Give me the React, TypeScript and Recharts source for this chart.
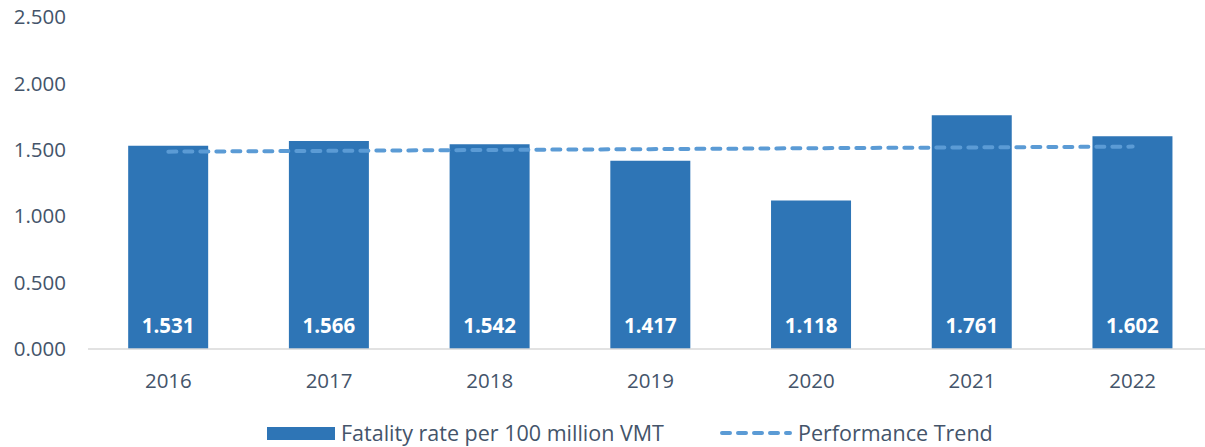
import { Bar, ComposedChart, LabelList, Line, XAxis, YAxis } from "recharts"

const years = ["2016", "2017", "2018", "2019", "2020", "2021", "2022"]
const fatalityRate = [1.531, 1.566, 1.542, 1.417, 1.118, 1.761, 1.602]
const performanceTrend = [1.486, 1.492, 1.499, 1.505, 1.512, 1.518, 1.524]
const yTicks = [0, 0.5, 1, 1.5, 2, 2.5]

const data = years.map((year, i) => ({
  year,
  rate: fatalityRate[i],
  trend: performanceTrend[i],
}))

const font = "'Open Sans', sans-serif"
const textColor = "#44546A"
const barColor = "#2E75B6"
const lineColor = "#5B9BD5"

export default function App() {
  return (
    <div
      style={{
        position: "fixed",
        top: 0,
        left: 0,
        width: 1205,
        height: 447,
        overflow: "hidden",
        background: "#fff",
        fontFamily: font,
      }}
    >
      <ComposedChart
        width={1213}
        height={447}
        data={data}
        margin={{ top: 17, right: 0, bottom: 58, left: 0 }}
        barCategoryGap="25%"
      >
        <XAxis
          dataKey="year"
          tickLine={false}
          axisLine={{ stroke: "#D9D9D9", strokeWidth: 1.5 }}
          tick={{ fill: textColor, fontSize: 20.5, fontFamily: font }}
          tickMargin={18}
          height={40}
        />
        <YAxis
          width={88}
          domain={[0, 2.5]}
          ticks={yTicks}
          tickFormatter={(v: number) => v.toFixed(3)}
          axisLine={false}
          tickLine={false}
          tickMargin={16}
          tick={{ fill: textColor, fontSize: 20.5, fontFamily: font }}
        />
        <Bar dataKey="rate" fill={barColor} isAnimationActive={false}>
          <LabelList
            dataKey="rate"
            position="insideBottom"
            offset={16}
            formatter={(v: number) => v.toFixed(3)}
            style={{ fill: "#fff", fontSize: 20.5, fontWeight: 700, fontFamily: font }}
          />
        </Bar>
        <Line
          dataKey="trend"
          type="linear"
          stroke={lineColor}
          strokeWidth={4}
          strokeDasharray="8 8"
          strokeLinecap="round"
          dot={false}
          activeDot={false}
          isAnimationActive={false}
        />
      </ComposedChart>
      <div
        style={{
          position: "absolute",
          top: 420,
          left: 0,
          width: 1205,
          display: "flex",
          justifyContent: "flex-start",
          alignItems: "center",
          color: textColor,
          fontSize: 21.5,
          lineHeight: "26px",
        }}
      >
        <div style={{ width: 68, height: 13, background: barColor, marginLeft: 267, marginRight: 6 }} />
        <span>Fatality rate per 100 million VMT</span>
        <svg width={72} height={6} style={{ marginLeft: 56, marginRight: 6 }}>
          <line
            x1={2}
            y1={3}
            x2={70}
            y2={3}
            stroke={lineColor}
            strokeWidth={4}
            strokeDasharray="8 8"
            strokeLinecap="round"
          />
        </svg>
        <span>Performance Trend</span>
      </div>
    </div>
  )
}
